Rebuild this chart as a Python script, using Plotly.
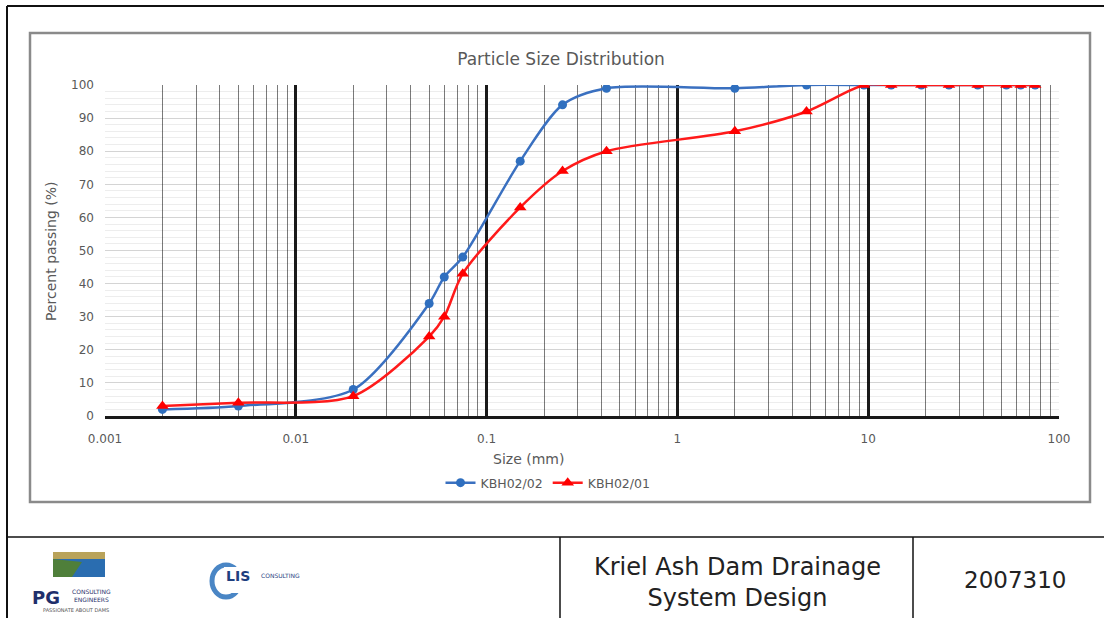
import plotly.graph_objects as go

# ---------------- data ----------------
sizes_mm = [0.002, 0.005, 0.02, 0.05, 0.06, 0.075, 0.15, 0.25, 0.425, 2.0, 4.75,
            9.5, 13.2, 19.0, 26.5, 37.5, 53.0, 63.0, 75.0]
kbh02_02 = [2, 3, 8, 34, 42, 48, 77, 94, 99, 99, 100,
            100, 100, 100, 100, 100, 100, 100, 100]
kbh02_01 = [3, 4, 6, 24, 30, 43, 63, 74, 80, 86, 92,
            100, 100, 100, 100, 100, 100, 100, 100]
x_tick_vals = [0.001, 0.01, 0.1, 1, 10, 100]
x_tick_text = ["0.001", "0.01", "0.1", "1", "10", "100"]

W, H = 1104, 618
L, R, T, B = 105, 1059, 85, 416   # plot area in page pixels

def px(p):
    return (p - L) / (R - L)

def py(p):
    return (B - p) / (B - T)

FONT = "DejaVu Sans"
GRAY = "#595959"

fig = go.Figure()
fig.add_trace(go.Scatter(
    x=sizes_mm, y=kbh02_02, name="KBH02/02", mode="lines+markers",
    line=dict(color="#3a70c0", width=2.5, shape="spline", smoothing=0.8),
    marker=dict(symbol="circle", size=9, color="#2f6fbf")))
fig.add_trace(go.Scatter(
    x=sizes_mm, y=kbh02_01, name="KBH02/01", mode="lines+markers",
    line=dict(color="#ff1a1a", width=2.5, shape="spline", smoothing=0.8),
    marker=dict(symbol="triangle-up", size=11, color="#ff0000")))

fig.update_layout(
    width=W, height=H,
    margin=dict(l=L, r=W - R, t=T, b=H - B),
    paper_bgcolor="white", plot_bgcolor="white",
    font=dict(family=FONT, color=GRAY, size=12),
    title=dict(text="Particle Size Distribution", x=561 / W, xanchor="center",
               y=1 - 59 / H, yanchor="middle",
               font=dict(family=FONT, size=17, color=GRAY)),
    showlegend=True,
    legend=dict(orientation="h", x=px(548), xanchor="center", y=py(483), yanchor="middle",
                font=dict(size=12.5, color=GRAY), bgcolor="rgba(0,0,0,0)",
                tracegroupgap=0),
)

fig.update_xaxes(
    type="log", range=[-3, 2],
    tickmode="array", tickvals=x_tick_vals, ticktext=x_tick_text,
    showgrid=True, gridcolor="#1a1a1a", gridwidth=2.5,
    minor=dict(tickmode="array",
               tickvals=[m * 10 ** e for e in range(-3, 2) for m in range(2, 10)],
               showgrid=True, gridcolor="#7a7a7a", gridwidth=1, griddash="solid",
               ticks=""),
    showline=True, linecolor="#1a1a1a", linewidth=2.5, mirror=False,
    zeroline=False, ticks="", ticklabelstandoff=10,
    tickfont=dict(size=12, color=GRAY),
)
fig.update_yaxes(
    range=[0, 100], dtick=10, tick0=0,
    showgrid=True, gridcolor="rgba(0,0,0,0.17)", gridwidth=1,
    minor=dict(dtick=2, showgrid=True, gridcolor="rgba(0,0,0,0.07)", gridwidth=1,
               griddash="solid", ticks=""),
    showline=False, zeroline=False, ticks="", ticklabelstandoff=10,
    tickfont=dict(size=12, color=GRAY),
)

def pline(x0, y0, x1, y1, color="#111", width=2):
    return dict(type="line", xref="paper", yref="paper", x0=px(x0), x1=px(x1),
                y0=py(y0), y1=py(y1), line=dict(color=color, width=width))

shapes = []
# outer page border
shapes.append(pline(7, 6, 1110, 6))
shapes.append(pline(7, 6, 7, 625))
# chart frame
shapes.append(dict(type="rect", xref="paper", yref="paper", x0=px(30), x1=px(1090),
                   y0=py(502), y1=py(33), line=dict(color="#8a8a8a", width=2.5),
                   layer="below"))
# title block lines
shapes.append(pline(7, 537, 1110, 537, width=1.5))
for xv in (560, 913):
    shapes.append(pline(xv, 537, xv, 625, width=1.5))
# PG logo picture (approximation)
shapes.append(dict(type="rect", xref="paper", yref="paper", x0=px(53), x1=px(105),
                   y0=py(577), y1=py(552), line=dict(width=0), fillcolor="#2a6db0"))
shapes.append(dict(type="rect", xref="paper", yref="paper", x0=px(53), x1=px(105),
                   y0=py(559), y1=py(552), line=dict(width=0), fillcolor="#b9a35a"))
shapes.append(dict(type="path", xref="paper", yref="paper",
                   path=f"M {px(53)},{py(577)} L {px(53)},{py(559)} L {px(82)},{py(562)} "
                        f"L {px(72)},{py(577)} Z",
                   line=dict(width=0), fillcolor="#4f7f3a"))
# LIS logo arc (approximation)
shapes.append(dict(type="circle", xref="paper", yref="paper", x0=px(212), x1=px(240),
                   y0=py(597), y1=py(565), line=dict(color="#4a86c5", width=5)))
shapes.append(dict(type="rect", xref="paper", yref="paper", x0=px(224), x1=px(243),
                   y0=py(593), y1=py(567), line=dict(width=0), fillcolor="white"))
fig.update_layout(shapes=shapes)

def note(text, x, y, size, color=GRAY, family=FONT, angle=0):
    return dict(text=text, xref="paper", yref="paper", x=px(x), y=py(y),
                textangle=angle, showarrow=False,
                font=dict(size=size, color=color, family=family),
                xanchor="center", yanchor="middle")

ann = [
    note("Percent passing (%)", 51, 251, 14, angle=-90),
    note("Size (mm)", 528, 459, 14),
    note("Kriel Ash Dam Drainage<br>System Design", 737, 582, 24, color="#222"),
    note("2007310", 1015, 580, 23, color="#222"),
    note("<b>PG</b>", 46, 597, 18, color="#1f2f6b"),
    note("CONSULTING<br>ENGINEERS", 91, 595, 6, color="#1f2f6b"),
    note("PASSIONATE ABOUT DAMS", 76, 610, 5, color="#555"),
    note("<b>LIS</b>", 238, 576, 14, color="#1f3f7f"),
    note("CONSULTING", 280, 575, 6, color="#1f3f7f"),
]
fig.update_layout(annotations=ann)

fig.write_html("out.html", config={"displayModeBar": False},
               post_script="document.body.style.margin='0';document.body.style.overflow='hidden';")
